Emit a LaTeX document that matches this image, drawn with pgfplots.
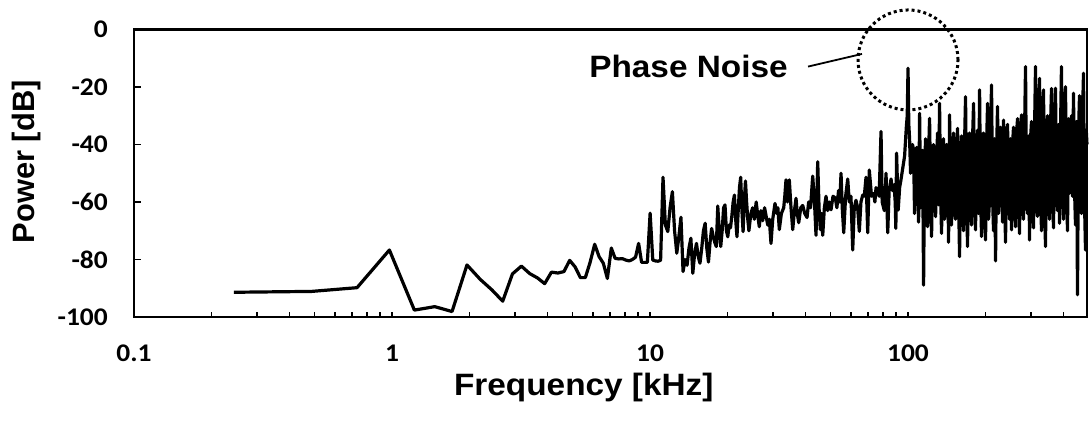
\documentclass[border=0pt]{standalone}
\usepackage{fontspec}
\setmainfont{Carlito}[FakeStretch=1.08]
\newfontfamily\labfont{Liberation Sans}[FakeStretch=1.08]
\newfontfamily\ylabfont{Liberation Sans}
\usepackage{pgfplots}
\pgfplotsset{compat=1.18}
\pgfplotstableread{
f db
0.244 -91.4
0.488 -91.1
0.732 -89.8
0.977 -76.7
1.221 -97.6
1.465 -96.4
1.709 -98.1
1.953 -81.9
2.197 -86.9
2.441 -90.6
2.686 -94.5
2.930 -85.0
3.174 -82.3
3.418 -84.9
3.662 -86.4
3.906 -88.4
4.150 -84.4
4.395 -84.7
4.639 -84.2
4.883 -80.3
5.127 -82.6
5.371 -86.3
5.615 -86.3
5.859 -81.0
6.104 -74.7
6.348 -79.0
6.592 -81.3
6.836 -86.6
7.080 -76.0
7.324 -79.6
7.568 -79.8
7.812 -79.7
8.057 -80.2
8.301 -80.5
8.545 -80.0
8.789 -79.2
9.033 -74.4
9.277 -81.0
9.521 -81.0
9.766 -81.0
10.01 -63.9
10.25 -80.2
10.50 -80.5
10.74 -80.6
10.99 -80.3
11.23 -51.4
11.47 -68.0
11.72 -70.3
11.96 -62.0
12.21 -56.4
12.45 -70.0
12.70 -77.8
12.94 -72.0
13.18 -65.3
13.43 -84.2
13.67 -80.0
13.92 -82.0
14.16 -76.0
14.40 -72.6
14.65 -84.8
14.89 -78.0
15.14 -74.4
15.38 -79.0
15.62 -81.3
15.87 -76.0
16.11 -70.0
16.36 -67.4
16.60 -76.0
16.85 -80.9
17.09 -74.0
17.33 -69.2
17.58 -72.0
17.82 -74.0
18.07 -75.5
18.31 -61.4
18.55 -70.0
18.80 -75.5
19.04 -70.0
19.29 -62.0
19.53 -61.0
19.78 -70.0
20.02 -72.1
20.26 -68.0
20.51 -69.0
20.75 -65.0
21.00 -60.0
21.24 -57.6
21.48 -66.0
21.73 -72.1
21.97 -63.0
22.22 -55.0
22.46 -51.4
22.71 -63.0
22.95 -70.3
23.19 -60.0
23.44 -52.7
23.68 -60.0
23.93 -66.0
24.17 -70.0
24.6 -64
25.0 -62
25.37 -66.0
25.8 -60
26.1 -64
26.52 -68.6
26.9 -63
27.34 -66.5
27.8 -62
28.2 -65
28.59 -68.0
29.0 -66
29.44 -74.4
29.9 -66
30.51 -60.5
31.0 -64
31.3 -62
31.71 -69.6
32.3 -64
32.98 -62.0
33.3 -58
33.66 -52.3
34.1 -60
34.67 -52.3
35.2 -62
35.74 -69.6
36.3 -63
36.81 -58.7
37.2 -64
37.71 -67.2
38.4 -62
39.08 -61.2
39.8 -64
40.61 -65.4
41.2 -60
41.9 -62
42.72 -51.0
43.4 -60
44.00 -71.6
44.67 -46.0
45.2 -62
45.72 -69.6
46.2 -64
46.71 -71.6
47.4 -62
48.11 -58.0
48.8 -63
49.5 -60
50.30 -62.7
51.2 -58
52.27 -58.6
53.0 -62
53.8 -56
54.4 -60
55.00 -50.0
55.6 -62
56.34 -70.7
57.3 -58
58.39 -52.0
59.2 -60
60.1 -58
61.05 -76.7
61.9 -62
62.86 -59.4
63.8 -62
64.75 -70.2
65.7 -60
66.75 -57.6
67.7 -58
68.75 -51.4
69.80 -70.7
70.79 -48.9
72.2 -58
73.63 -57.0
74.4 -60
75.16 -55.0
76.2 -56
77.3 -58
78.60 -35.5
79.4 -60
80.95 -63.0
81.5 -58
82.18 -50
83.44 -70.7
84.5 -56
85.96 -52
87.0 -56
88.3 -54
89.2 -60
89.7 -69.2
90.3 -43
91.6 -62.8
92.8 -55
94.0 -52
95.5 -48
97.0 -44
98.5 -34
99.3 -30
100.0 -13.5
100.7 -33
101.4 -38
102.3 -50
103.2 -46
104.1 -40
105.1 -42
106.0 -64
107.0 -55
107.9 -41
108.9 -44
109.9 -67
110.9 -29.2
111.9 -62
112.9 -58
113.9 -42
114.9 -88.9
115.9 -48
117.0 -38
118.0 -62
119.1 -68.6
120.1 -44
121.2 -30.9
122.3 -56
123.4 -72
124.5 -43
125.6 -40
126.7 -59
127.9 -65.1
129.0 -45
130.2 -36
131.3 -61
132.5 -25.7
133.7 -57
134.9 -70.9
136.1 -42
137.3 -38
138.5 -66
139.8 -61
141.0 -40
142.3 -43
143.6 -74
144.9 -29.7
146.2 -58
147.5 -68
148.8 -41
150.2 -36
151.5 -62
152.9 -66
154.2 -42
155.6 -34.4
157.0 -58
158.4 -79.0
159.8 -45
161.3 -37
162.7 -64
164.2 -70
165.6 -40
167.1 -23.4
168.6 -58
170.1 -75.5
171.6 -42
173.2 -36
174.7 -63
176.3 -68
177.9 -38
179.5 -25.7
181.1 -60
182.7 -69.7
184.3 -41
186.0 -35
187.7 -64
189.4 -21.0
191.1 -58
192.8 -72
194.5 -38
196.2 -36
198.0 -62
199.8 -73.2
201.6 -40
203.4 -25.7
205.2 -66
207.0 -59
208.8 -37
210.7 -19.3
212.6 -58
214.5 -70
216.4 -38
218.4 -80.5
220.3 -44
222.3 -26.8
224.3 -64
226.3 -58
228.3 -34
230.4 -38
232.5 -67
234.6 -31.5
236.7 -58
238.8 -74
240.9 -37
243.1 -33
245.3 -60
247.5 -66
249.7 -38
251.9 -69.7
254.1 -40
256.4 -34
258.7 -61
261.1 -68.6
263.4 -36
265.8 -31
268.1 -59
270.5 -71
272.9 -35
275.4 -29.7
277.9 -60
280.4 -66
282.9 -36
285.4 -12.9
287.9 -58
290.5 -64
293.1 -37
295.8 -73.2
298.4 -38
301.1 -32
303.8 -60
306.5 -69
309.2 -36
312.0 -12.9
314.8 -58
317.6 -65
320.5 -35
323.4 -17.0
326.3 -58
329.2 -70
332.1 -34
335.1 -21.0
338.1 -60
341.1 -75.5
344.2 -36
347.3 -30
350.4 -59
353.5 -66
356.7 -34
359.9 -20.5
363.1 -57
366.4 -69
369.6 -33
372.9 -20.4
376.3 -55
379.7 -63
383.1 -33
386.5 -67.4
389.9 -36
393.4 -12.9
396.9 -56
400.5 -66
404.1 -32
407.7 -19.9
411.4 -56
415.1 -70
418.8 -31
422.5 -57
426.3 -35
430.1 -30
434.0 -58
437.9 -22.2
441.8 -55
445.8 -68
449.8 -32
453.8 -92.3
457.9 -36
462.0 -23.0
466.1 -57
470.3 -64
474.5 -30
478.8 -15.2
483.1 -60
487.4 -76.7
490.7 -35
494.0 -40
}\spectrum

\begin{document}
\begin{tikzpicture}
\useasboundingbox (0,0) rectangle (1089bp,421bp);
\begin{axis}[
  at={(134bp,104bp)}, anchor=south west,
  scale only axis, width=953bp, height=287.5bp,
  xmode=log, log basis x=10,
  xmin=0.1, xmax=494, ymin=-100, ymax=0,
  xtick={0.1,1,10,100}, xticklabels={0.1,1,10,100},
  minor xtick={0.2,0.3,0.4,0.5,0.6,0.7,0.8,0.9,1,2,3,4,5,6,7,8,9,10,20,30,40,50,60,70,80,90,100,200,300,400},
  ytick={-100,-80,-60,-40,-20,0}, yticklabels={-100,-80,-60,-40,-20,0},
  tick align=inside, xtick pos=bottom, ytick pos=left,
  major tick length=7bp, minor tick length=5bp,
  major x tick style={draw=none},
  tick style={black, line width=1.6bp},
  axis line style={line width=2.2bp},
  ticklabel style={font=\fontsize{25.5}{25.5}\selectfont\bfseries, inner sep=0pt},
  xticklabel style={anchor=north, yshift=-28bp},
  yticklabel style={anchor=east, xshift=-26bp},
  xlabel={Frequency [kHz]}, ylabel={Power [dB]},
  xlabel style={at={(axis description cs:0.472,-0.247)}, anchor=center, inner sep=0pt, font=\labfont\fontsize{31}{31}\selectfont\bfseries},
  ylabel style={at={(axis description cs:-0.1126,0.54)}, anchor=center, inner sep=0pt, font=\ylabfont\fontsize{31}{31}\selectfont\bfseries},
  clip=false,
]
\addplot[black, line width=3.2bp, line join=round, mark=none] table[x=f, y=db] {\spectrum};
\draw[line width=3bp, dash pattern=on 3bp off 3bp] (axis cs:100,-10.6) circle[radius=50bp];
\draw[line width=1.8bp] (axis cs:40.97,-12.9) -- (axis cs:66.34,-8.5);
\node[font=\labfont\fontsize{31}{31}\selectfont\bfseries, inner sep=0pt] at (axis cs:14.1,-13.0) {Phase Noise};
\end{axis}
\end{tikzpicture}
\end{document}
